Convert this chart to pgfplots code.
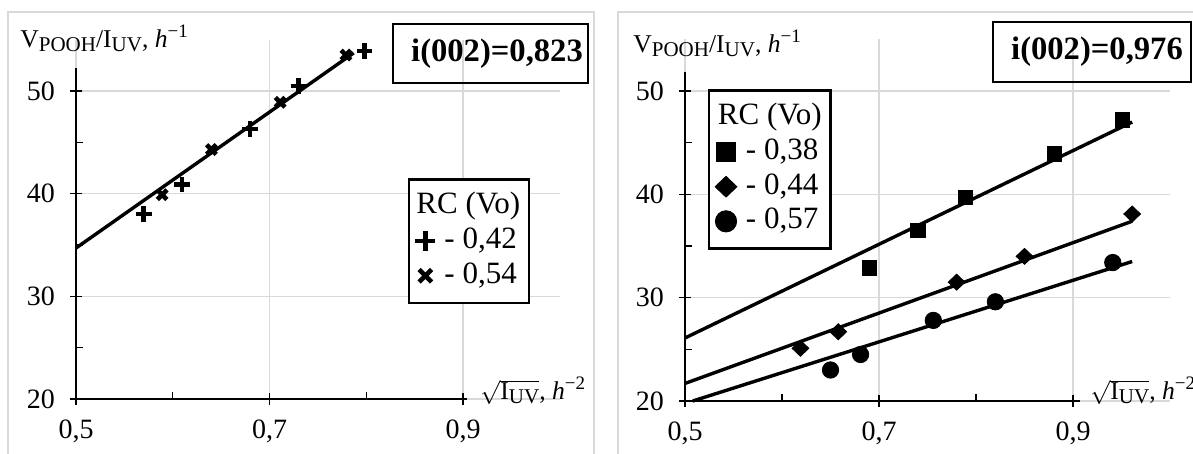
\documentclass[border=0pt]{standalone}
\usepackage{pgfplots}
\pgfplotsset{compat=1.18}
\usepackage{fontspec}
\setmainfont{Liberation Serif}

\definecolor{gridgray}{HTML}{D9D9D9}

\newcommand\sub[1]{\raisebox{-0.3ex}{\fontsize{10.5}{11}\selectfont #1}}
\newcommand\ylab{{\fontsize{12.8}{14}\selectfont V\sub{POOH}/I\sub{UV}, \textit{h}\raisebox{0.9ex}{\fontsize{9.5}{10}\selectfont −1}}}
\newcommand\xlab{{\fontsize{12.8}{14}\selectfont $\sqrt{\mbox{I\sub{UV}}}$, \textit{h}\raisebox{0.9ex}{\fontsize{9.5}{10}\selectfont −2}}}

\pgfplotsset{
  panel/.style={
    scale only axis, anchor=south west,
    xmin=0.5, xmax=1.0, ymin=20, ymax=55,
    xtick={0.5,0.7,0.9}, xticklabels={{0,5},{0,7},{0,9}},
    minor xtick={0.6,0.8},
    ytick={20,30,40,50}, minor ytick={25,35,45},
    xmajorgrids, ymajorgrids,
    major grid style={draw=gridgray, line width=0.6pt},
    axis x line*=bottom, axis y line*=left,
    axis line style={draw=none, -},
    tick align=center,
    major tick length=6pt, minor tick length=3.4pt,
    tick style={black, line width=0.6pt},
    minor x tick style={yshift=1.7pt},
    minor y tick style={xshift=1.7pt},
    /pgf/number format/assume math mode=true,
    tick label style={font=\fontsize{14}{16}\selectfont},
    xticklabel style={yshift=-4pt},
    yticklabel style={xshift=-4pt},
    clip=false,
    legend cell align=left,
    legend style={draw=black, line width=1.3pt, fill=white,
      font=\fontsize{15.5}{17}\selectfont,
      inner xsep=3pt, inner ysep=5pt, row sep=0pt, column sep=3pt,
      nodes={inner xsep=1.5pt, inner ysep=1.5pt, text height=10.8pt, text depth=3.5pt}},
  },
  trend/.style={black, line width=1.7pt, forget plot},
  lm/.style={only marks,
    legend image code/.code={\draw[##1, every mark/.append style={scale=1.3}] plot coordinates {(0pt,0pt)};}},
}

\begin{document}
\begin{tikzpicture}[x=1pt,y=1pt]
\draw[gridgray, line width=1.2pt] (4,-10) rectangle (297,221);
\draw[gridgray, line width=1.2pt] (309,-10) rectangle (620,221);

% left panel
\begin{axis}[panel, at={(38pt,27.5pt)}, width=241.9pt, height=179.7pt,
  legend style={at={(0.686,0.615)}, anchor=north west}]
\draw[black, line width=0.9pt] (axis cs:0.5,20) -- (axis cs:0.904,20);
\draw[black, line width=0.9pt] (axis cs:0.5,20) -- (axis cs:0.5,52.2);
\addplot[trend] coordinates {(0.5,34.7) (0.787,53.7)};
\addlegendimage{empty legend}
\addlegendentry{\hspace*{-14pt}RC (Vo)}
\addplot[lm, mark=+, mark size=3.9pt, line width=2.3pt] coordinates {
  (0.570,38.0) (0.6095,40.9) (0.680,46.3) (0.730,50.5) (0.798,53.9)};
\addlegendentry{- 0,42}
\addplot[lm, mark=x, mark size=3.4pt, line width=2.3pt] coordinates {
  (0.589,39.9) (0.640,44.3) (0.711,48.9) (0.779,53.5)};
\addlegendentry{- 0,54}
\end{axis}

% right panel
\begin{axis}[panel, at={(342.5pt,26.5pt)}, width=242.5pt, height=180.8pt,
  legend style={at={(0.047,0.863)}, anchor=north west}]
\draw[black, line width=0.9pt] (axis cs:0.5,20) -- (axis cs:0.907,20);
\draw[black, line width=0.9pt] (axis cs:0.5,20) -- (axis cs:0.5,51.8);
\addplot[trend] coordinates {(0.5,26.1) (0.961,47.0)};
\addplot[trend] coordinates {(0.5,21.7) (0.961,37.4)};
\addplot[trend] coordinates {(0.508,20) (0.961,33.5)};
\addlegendimage{empty legend}
\addlegendentry{\hspace*{-14pt}RC (Vo)}
\addplot[lm, mark=square*, mark size=3.6pt, line width=0.4pt] coordinates {
  (0.690,32.9) (0.740,36.5) (0.789,39.7) (0.881,43.9) (0.951,47.2)};
\addlegendentry{- 0,38}
\addplot[lm, mark=diamond*, mark size=4pt, mark options={xscale=1.4}, line width=0.4pt] coordinates {
  (0.619,25.1) (0.658,26.7) (0.780,31.5) (0.850,34.0) (0.961,38.1)};
\addlegendentry{- 0,44}
\addplot[lm, mark=*, mark size=4.1pt, line width=0.4pt] coordinates {
  (0.650,23.0) (0.681,24.5) (0.756,27.8) (0.820,29.6) (0.941,33.4)};
\addlegendentry{- 0,57}
\end{axis}

\draw[line width=1.3pt] (196.5,185.5) rectangle (294,215);
\node[font=\fontsize{16.3}{18}\selectfont\bfseries] at (248.5,200.25) {i(002)=0,823};
\draw[line width=1.3pt] (496.5,186) rectangle (595.5,216);
\node[font=\fontsize{16.3}{18}\selectfont\bfseries] at (548.5,201) {i(002)=0,976};

\node[anchor=base west, inner sep=0] at (10,203) {\ylab};
\node[anchor=base west, inner sep=0] at (316.5,200.5) {\ylab};
\node[anchor=base west, inner sep=0] at (240,27) {\xlab};
\node[anchor=base west, inner sep=0] at (545,27) {\xlab};

\pgfresetboundingbox
\useasboundingbox (0,0) rectangle (596.5,227);
\end{tikzpicture}
\end{document}
